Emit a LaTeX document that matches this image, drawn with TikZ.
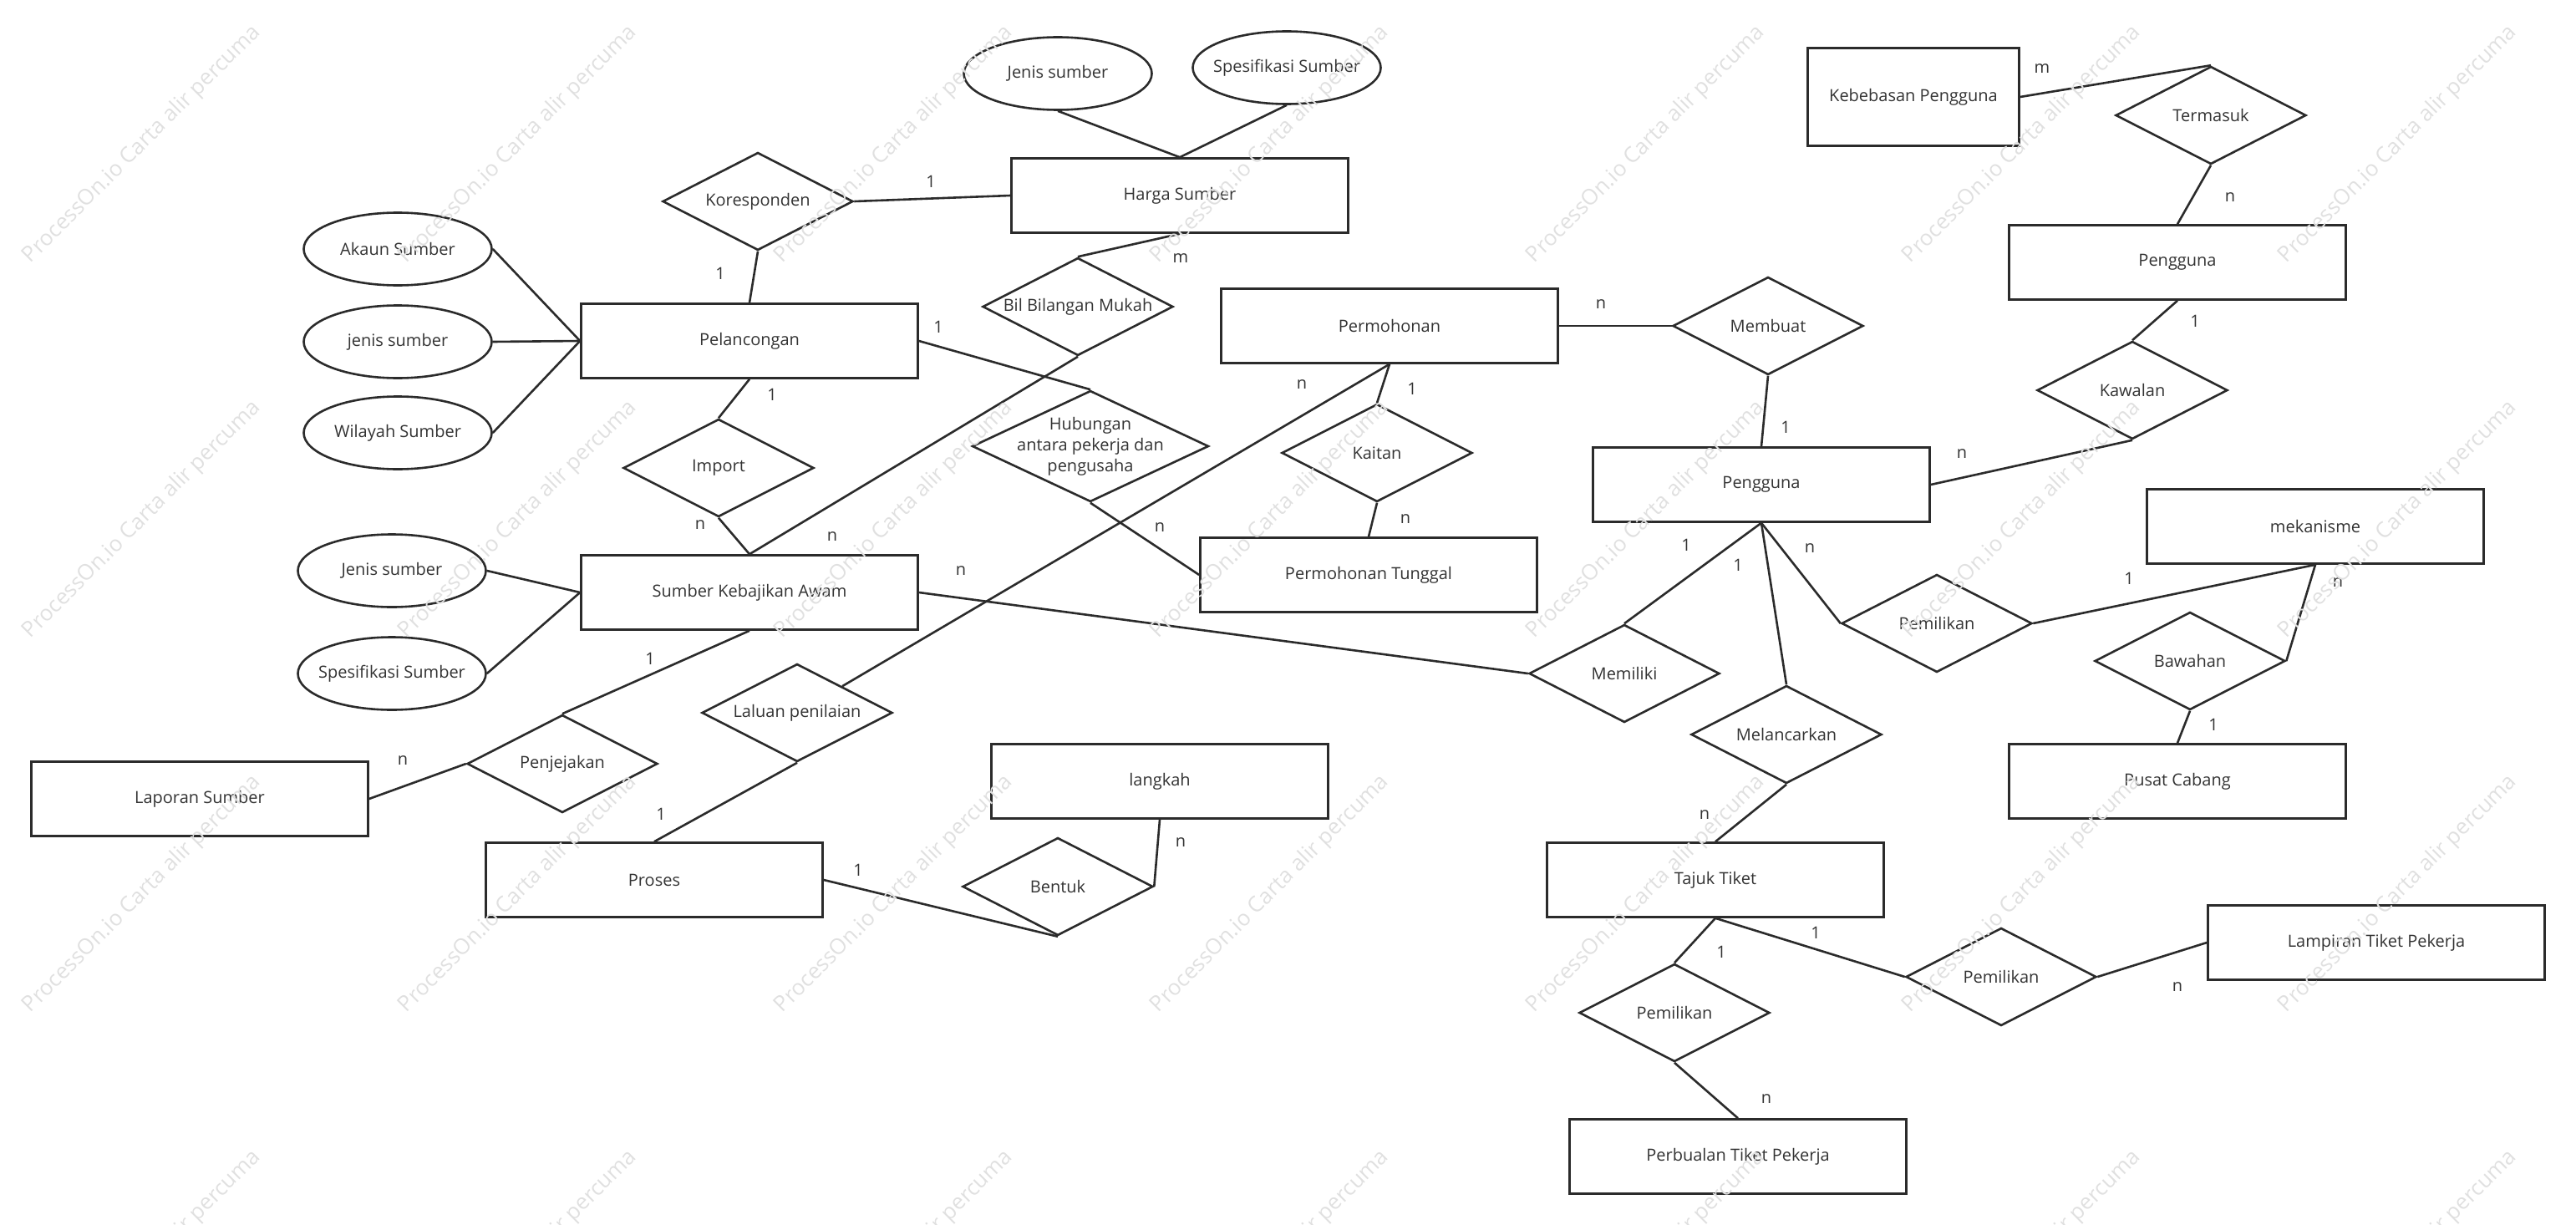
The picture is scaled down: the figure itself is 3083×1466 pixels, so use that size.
\documentclass[tikz,border=0pt]{standalone}
\usepackage{fontspec}
\setmainfont{Open Sans}
\usepackage{xcolor}
\usepackage{tikz}
\usetikzlibrary{shapes.geometric}

\definecolor{garis}{HTML}{2B2B2B}
\definecolor{teks}{HTML}{333333}
\definecolor{tera}{HTML}{E0E0E0}

\begin{document}
\begin{tikzpicture}[x=1pt, y=-1pt, line width=2.6pt, color=garis, text=teks,
        font=\fontsize{20}{25}\selectfont,
        entiti/.style={draw, rectangle, minimum width=403pt, minimum height=89pt},
        hubung/.style={draw, diamond, minimum width=228pt, minimum height=117pt, inner sep=0pt},
        atribut/.style={draw, ellipse, minimum width=225pt, minimum height=87pt, inner sep=0pt},
        kard/.style={inner sep=0pt},
        tanda/.style={text=tera, rotate=45, font=\fontsize{26}{30}\selectfont}]
        \useasboundingbox (0,0) rectangle (3083,1466);

        % Atribut
        \node[atribut, label=center:Akaun Sumber] (akaun) at (476,298) {};
        \node[atribut, label=center:jenis sumber] (jenis1) at (476,409) {};
        \node[atribut, label=center:Wilayah Sumber] (wilayah) at (476,518) {};
        \node[atribut, label=center:Jenis sumber] (jenis2) at (469,683) {};
        \node[atribut, label=center:Spesifikasi Sumber] (spes2) at (469,806) {};
        \node[atribut, label=center:Jenis sumber] (jenis3) at (1266,88) {};
        \node[atribut, label=center:Spesifikasi Sumber] (spes3) at (1540,81) {};

        % Entiti
        \node[entiti] (pel) at (897,408) {Pelancongan};
        \node[entiti] (ska) at (897,709) {Sumber Kebajikan Awam};
        \node[entiti] (harga) at (1412,234) {Harga Sumber};
        \node[entiti] (laporan) at (239,956) {Laporan Sumber};
        \node[entiti] (proses) at (783,1053) {Proses};
        \node[entiti] (langkah) at (1388,935) {langkah};
        \node[entiti] (mohon) at (1663,390) {Permohonan};
        \node[entiti] (tunggal) at (1638,688) {Permohonan Tunggal};
        \node[entiti, minimum width=253pt, minimum height=117pt] (bebas) at (2290,116) {Kebebasan Pengguna};
        \node[entiti] (guna1) at (2606,314) {Pengguna};
        \node[entiti] (guna2) at (2108,580) {Pengguna};
        \node[entiti] (mekanisme) at (2771,630) {mekanisme};
        \node[entiti] (pusat) at (2606,935) {Pusat Cabang};
        \node[entiti] (tajuk) at (2053,1053) {Tajuk Tiket};
        \node[entiti] (lampiran) at (2844,1128) {Lampiran Tiket Pekerja};
        \node[entiti] (bual) at (2080,1384) {Perbualan Tiket Pekerja};

        % Hubungan
        \node[hubung, label=center:Koresponden] (kor) at (907,241) {};
        \node[hubung, label=center:Import] (import) at (860,560) {};
        \node[hubung, label=center:Bil Bilangan Mukah] (bil) at (1290,367) {};
        \node[hubung, minimum width=283pt, minimum height=133pt,
            label={[align=center]center:{Hubungan\\antara pekerja dan\\pengusaha}}] (hub) at (1305,534) {};
        \node[hubung, label=center:Kaitan] (kaitan) at (1648,542) {};
        \node[hubung, label=center:Laluan penilaian] (laluan) at (954,853) {};
        \node[hubung, label=center:Penjejakan] (jejak) at (673,914) {};
        \node[hubung, label=center:Bentuk] (bentuk) at (1266,1061) {};
        \node[hubung, label=center:Membuat] (buat) at (2116,390) {};
        \node[hubung, label=center:Termasuk] (termasuk) at (2646,138) {};
        \node[hubung, label=center:Kawalan] (kawal) at (2552,467) {};
        \node[hubung, label=center:Memiliki] (milik) at (1944,806) {};
        \node[hubung, label=center:Pemilikan] (milik1) at (2318,746) {};
        \node[hubung, label=center:Bawahan] (bawah) at (2621,791) {};
        \node[hubung, label=center:Melancarkan] (lancar) at (2138,879) {};
        \node[hubung, label=center:Pemilikan] (milik2) at (2395,1169) {};
        \node[hubung, label=center:Pemilikan] (milik3) at (2004,1212) {};

        % Sambungan
        \draw (akaun.east) -- (pel.west);
        \draw (jenis1.east) -- (pel.west);
        \draw (wilayah.east) -- (pel.west);
        \draw (kor.south) -- (pel.north);
        \draw (kor.east) -- (harga.west);
        \draw (jenis3.south) -- (harga.north);
        \draw (spes3.south) -- (harga.north);
        \draw (harga.south) -- (bil.north);
        \draw (bil.south) -- (ska.north);
        \draw (pel.south) -- (import.north);
        \draw (import.south) -- (ska.north);
        \draw (pel.east) -- (hub.north);
        \draw (hub.south) -- (tunggal.west);
        \draw (mohon.south) -- (kaitan.north);
        \draw (kaitan.south) -- (tunggal.north);
        \draw (mohon.south) -- (laluan);
        \draw (laluan.south) -- (proses.north);
        \draw (ska.south) -- (jejak.north);
        \draw (jejak.west) -- (laporan.east);
        \draw (jenis2.east) -- (ska.west);
        \draw (spes2.east) -- (ska.west);
        \draw (ska.east) -- (milik.west);
        \draw (proses.east) -- (bentuk.south);
        \draw (langkah.south) -- (bentuk.east);
        \draw (mohon.east) -- (buat.west);
        \draw (buat.south) -- (guna2.north);
        \draw (bebas.east) -- (termasuk.north);
        \draw (termasuk.south) -- (guna1.north);
        \draw (guna1.south) -- (kawal.north);
        \draw (kawal.south) -- (guna2.east);
        \draw (guna2.south) -- (milik.north);
        \draw (guna2.south) -- (lancar.north);
        \draw (guna2.south) -- (milik1.west);
        \draw (milik1.east) -- (mekanisme.south);
        \draw (mekanisme.south) -- (bawah.east);
        \draw (bawah.south) -- (pusat.north);
        \draw (lancar.south) -- (tajuk.north);
        \draw (tajuk.south) -- (milik3.north);
        \draw (milik3.south) -- (bual.north);
        \draw (tajuk.south) -- (milik2.west);
        \draw (milik2.east) -- (lampiran.west);

        % Kardinaliti
        \node[kard] (k1) at (1114,217) {1};
        \node[kard] (k2) at (862,327) {1};
        \node[kard] (k3) at (1413,309) {m};
        \node[kard] (k4) at (1123,391) {1};
        \node[kard] (k5) at (924,472) {1};
        \node[kard] (k6) at (838,628) {n};
        \node[kard] (k7) at (996,642) {n};
        \node[kard] (k8) at (1388,631) {n};
        \node[kard] (k9) at (1150,683) {n};
        \node[kard] (k10) at (778,788) {1};
        \node[kard] (k11) at (482,910) {n};
        \node[kard] (k12) at (791,974) {1};
        \node[kard] (k13) at (1027,1041) {1};
        \node[kard] (k14) at (1413,1008) {n};
        \node[kard] (k15) at (2444,82) {m};
        \node[kard] (k16) at (2669,236) {n};
        \node[kard] (k17) at (1916,364) {n};
        \node[kard] (k18) at (2627,384) {1};
        \node[kard] (k19) at (1558,460) {n};
        \node[kard] (k20) at (1690,465) {1};
        \node[kard] (k21) at (2137,511) {1};
        \node[kard] (k22) at (2348,543) {n};
        \node[kard] (k23) at (1682,621) {n};
        \node[kard] (k24) at (2018,652) {1};
        \node[kard] (k25) at (2080,676) {1};
        \node[kard] (k26) at (2166,656) {n};
        \node[kard] (k27) at (2548,692) {1};
        \node[kard] (k28) at (2798,697) {n};
        \node[kard] (k29) at (2649,867) {1};
        \node[kard] (k30) at (2040,975) {n};
        \node[kard] (k31) at (2173,1116) {1};
        \node[kard] (k32) at (2060,1139) {1};
        \node[kard] (k33) at (2606,1181) {n};
        \node[kard] (k34) at (2114,1315) {n};

        % Tera air
        \foreach \kx in {170,620,...,2870}
            \foreach \ky in {173,622,1070,1519}
                \node[tanda] (tera-\kx-\ky) at (\kx,\ky) {ProcessOn.io Carta alir percuma};
\end{tikzpicture}
\end{document}
